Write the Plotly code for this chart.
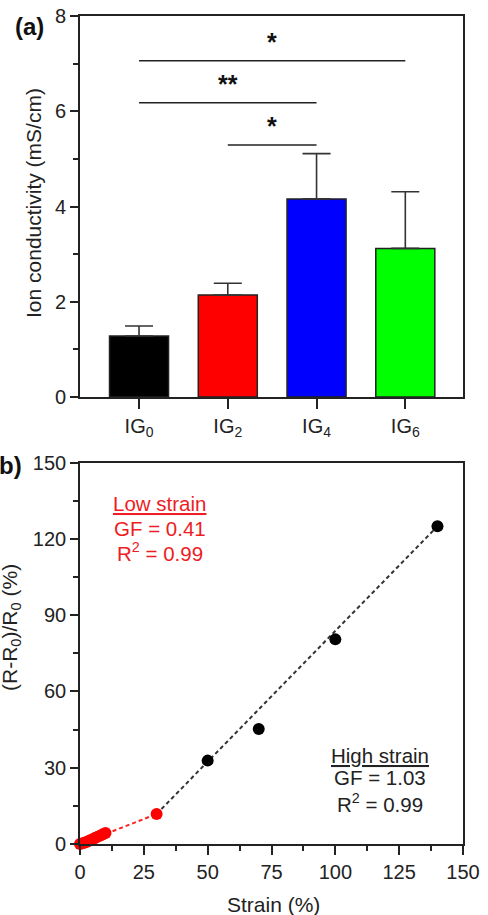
import plotly.graph_objects as go

# ---------------- data: panel (a) ----------------
groups = ["IG<sub>0</sub>", "IG<sub>2</sub>", "IG<sub>4</sub>", "IG<sub>6</sub>"]
conductivity = [1.28, 2.14, 4.16, 3.12]
cond_err = [0.21, 0.25, 0.95, 1.19]
bar_colors = ["#000000", "#ff0000", "#0000ff", "#00ff00"]

sig_from = [0, 0, 1]
sig_to = [3, 2, 2]
sig_level = [7.06, 6.18, 5.29]
sig_mark = ["*", "**", "*"]

# ---------------- data: panel (b) ----------------
low_strain = [0, 1, 2, 3, 4, 5, 6, 7, 8, 9, 10, 30]
low_resp = [0.0, 0.3, 0.6, 1.0, 1.5, 1.9, 2.5, 2.9, 3.3, 3.8, 4.3, 11.8]
high_strain = [50, 70, 100, 140]
high_resp = [32.8, 45.2, 80.5, 125.0]
low_fit_x = [0, 30]
low_fit_y = [0.0, 11.8]
high_fit_x = [30, 140]
high_fit_y = [11.8, 125.0]

W, H = 488, 915
FONT = "Liberation Sans, Arial, sans-serif"
TXT = "#222222"


def px(x):
    return x / W


def py(y):
    return 1 - y / H


fig = go.Figure()

fig.add_trace(go.Bar(
    x=list(range(len(groups))), y=conductivity,
    marker=dict(color=bar_colors, line=dict(color="#222", width=1.5)),
    width=0.665,
    error_y=dict(type="data", array=cond_err, arrayminus=[0] * len(cond_err),
                 symmetric=False, color="#333", thickness=1.6, width=14),
    xaxis="x", yaxis="y", showlegend=False,
))

fig.add_trace(go.Scatter(
    x=low_fit_x, y=low_fit_y, mode="lines",
    line=dict(color="#ff2020", width=2, dash="4px,3px"),
    xaxis="x2", yaxis="y2", showlegend=False,
))
fig.add_trace(go.Scatter(
    x=high_fit_x, y=high_fit_y, mode="lines",
    line=dict(color="#333", width=2, dash="4px,3px"),
    xaxis="x2", yaxis="y2", showlegend=False,
))
fig.add_trace(go.Scatter(
    x=low_strain, y=low_resp, mode="markers",
    marker=dict(color="#ff0000", size=12),
    xaxis="x2", yaxis="y2", showlegend=False, cliponaxis=False,
))
fig.add_trace(go.Scatter(
    x=high_strain, y=high_resp, mode="markers",
    marker=dict(color="#000000", size=12),
    xaxis="x2", yaxis="y2", showlegend=False, cliponaxis=False,
))

shapes = []
annotations = []
for a, b, lvl, mk in zip(sig_from, sig_to, sig_level, sig_mark):
    shapes.append(dict(type="line", xref="x", yref="y", x0=a, x1=b, y0=lvl, y1=lvl,
                       line=dict(color="#222", width=1.6)))
    annotations.append(dict(xref="x", yref="y", x=(a + b) / 2, y=lvl + 0.40,
                            text="<b>" + mk + "</b>", showarrow=False, yanchor="middle",
                            font=dict(family=FONT, size=25, color="#111")))

tickfont = dict(family=FONT, size=20, color=TXT)
common = dict(showline=True, linecolor="#222", linewidth=1.6, mirror=True,
              ticks="outside", tickcolor="#222", tickwidth=1.6, automargin=False,
              tickfont=tickfont, showgrid=False, zeroline=False)

fig.update_layout(
    template="none",
    width=W, height=H, margin=dict(l=0, r=0, t=0, b=0, pad=0, autoexpand=False),
    paper_bgcolor="white", plot_bgcolor="white",
    xaxis=dict(domain=[px(80), px(463)], range=[-0.665, 3.65],
               tickvals=list(range(len(groups))), ticktext=groups,
               ticklen=10, anchor="y", **common),
    yaxis=dict(domain=[py(397), py(16)], range=[0, 8], dtick=2, ticklen=8,
               minor=dict(dtick=1, ticklen=5, ticks="outside", tickcolor="#222", tickwidth=1.6),
               anchor="x", **common),
    xaxis2=dict(domain=[px(80), px(463)], range=[0, 150], dtick=25, ticklen=9,
                minor=dict(dtick=12.5, ticklen=5, ticks="outside", tickcolor="#222", tickwidth=1.6),
                anchor="y2", **common),
    yaxis2=dict(domain=[py(844), py(462.7)], range=[0, 150], dtick=30, ticklen=8,
                minor=dict(dtick=15, ticklen=5, ticks="outside", tickcolor="#222", tickwidth=1.6),
                anchor="x2", **common),
    shapes=shapes,
)

afont = dict(family=FONT, size=21, color=TXT)
red_font = dict(family=FONT, size=20.5, color="#ee1c24")
bfont = dict(family=FONT, size=20.5, color=TXT)
annotations += [
    dict(xref="paper", yref="paper", x=px(29), y=py(26), text="<b>(a)</b>",
         showarrow=False, xanchor="center", yanchor="middle",
         font=dict(family=FONT, size=24, color="#111")),
    dict(xref="paper", yref="paper", x=px(24), y=py(465), text="<b>(b)</b>",
         showarrow=False, xanchor="right", yanchor="middle",
         font=dict(family=FONT, size=24, color="#111")),
    dict(xref="paper", yref="paper", x=px(34), y=py(203),
         text="Ion conductivity (mS/cm)", textangle=-90, showarrow=False,
         xanchor="center", yanchor="middle", font=afont),
    dict(xref="paper", yref="paper", x=px(11), y=py(628),
         text="(R-R<sub>0</sub>)/R<sub>0</sub> (%)", textangle=-90, showarrow=False,
         xanchor="center", yanchor="middle", font=afont),
    dict(xref="paper", yref="paper", x=px(273), y=py(904),
         text="Strain (%)", showarrow=False,
         xanchor="center", yanchor="middle", font=afont),
    dict(xref="x2", yref="y2", x=31.3, y=134, text="<u>Low strain</u>",
         showarrow=False, yanchor="middle", font=red_font),
    dict(xref="x2", yref="y2", x=31.3, y=124.3, text="GF = 0.41",
         showarrow=False, yanchor="middle", font=red_font),
    dict(xref="x2", yref="y2", x=31.3, y=114.9, text="R<sup>2</sup> = 0.99",
         showarrow=False, yanchor="middle", font=red_font),
    dict(xref="x2", yref="y2", x=117.5, y=35, text="<u>High strain</u>",
         showarrow=False, yanchor="middle", font=bfont),
    dict(xref="x2", yref="y2", x=117.5, y=26, text="GF = 1.03",
         showarrow=False, yanchor="middle", font=bfont),
    dict(xref="x2", yref="y2", x=117.5, y=16.1, text="R<sup>2</sup> = 0.99",
         showarrow=False, yanchor="middle", font=bfont),
]
fig.update_layout(annotations=annotations)

fig.write_html(
    "out.html",
    config={"displayModeBar": False},
    post_script="document.body.style.margin='0';document.body.style.padding='0';"
                "document.documentElement.style.overflow='hidden';",
)
